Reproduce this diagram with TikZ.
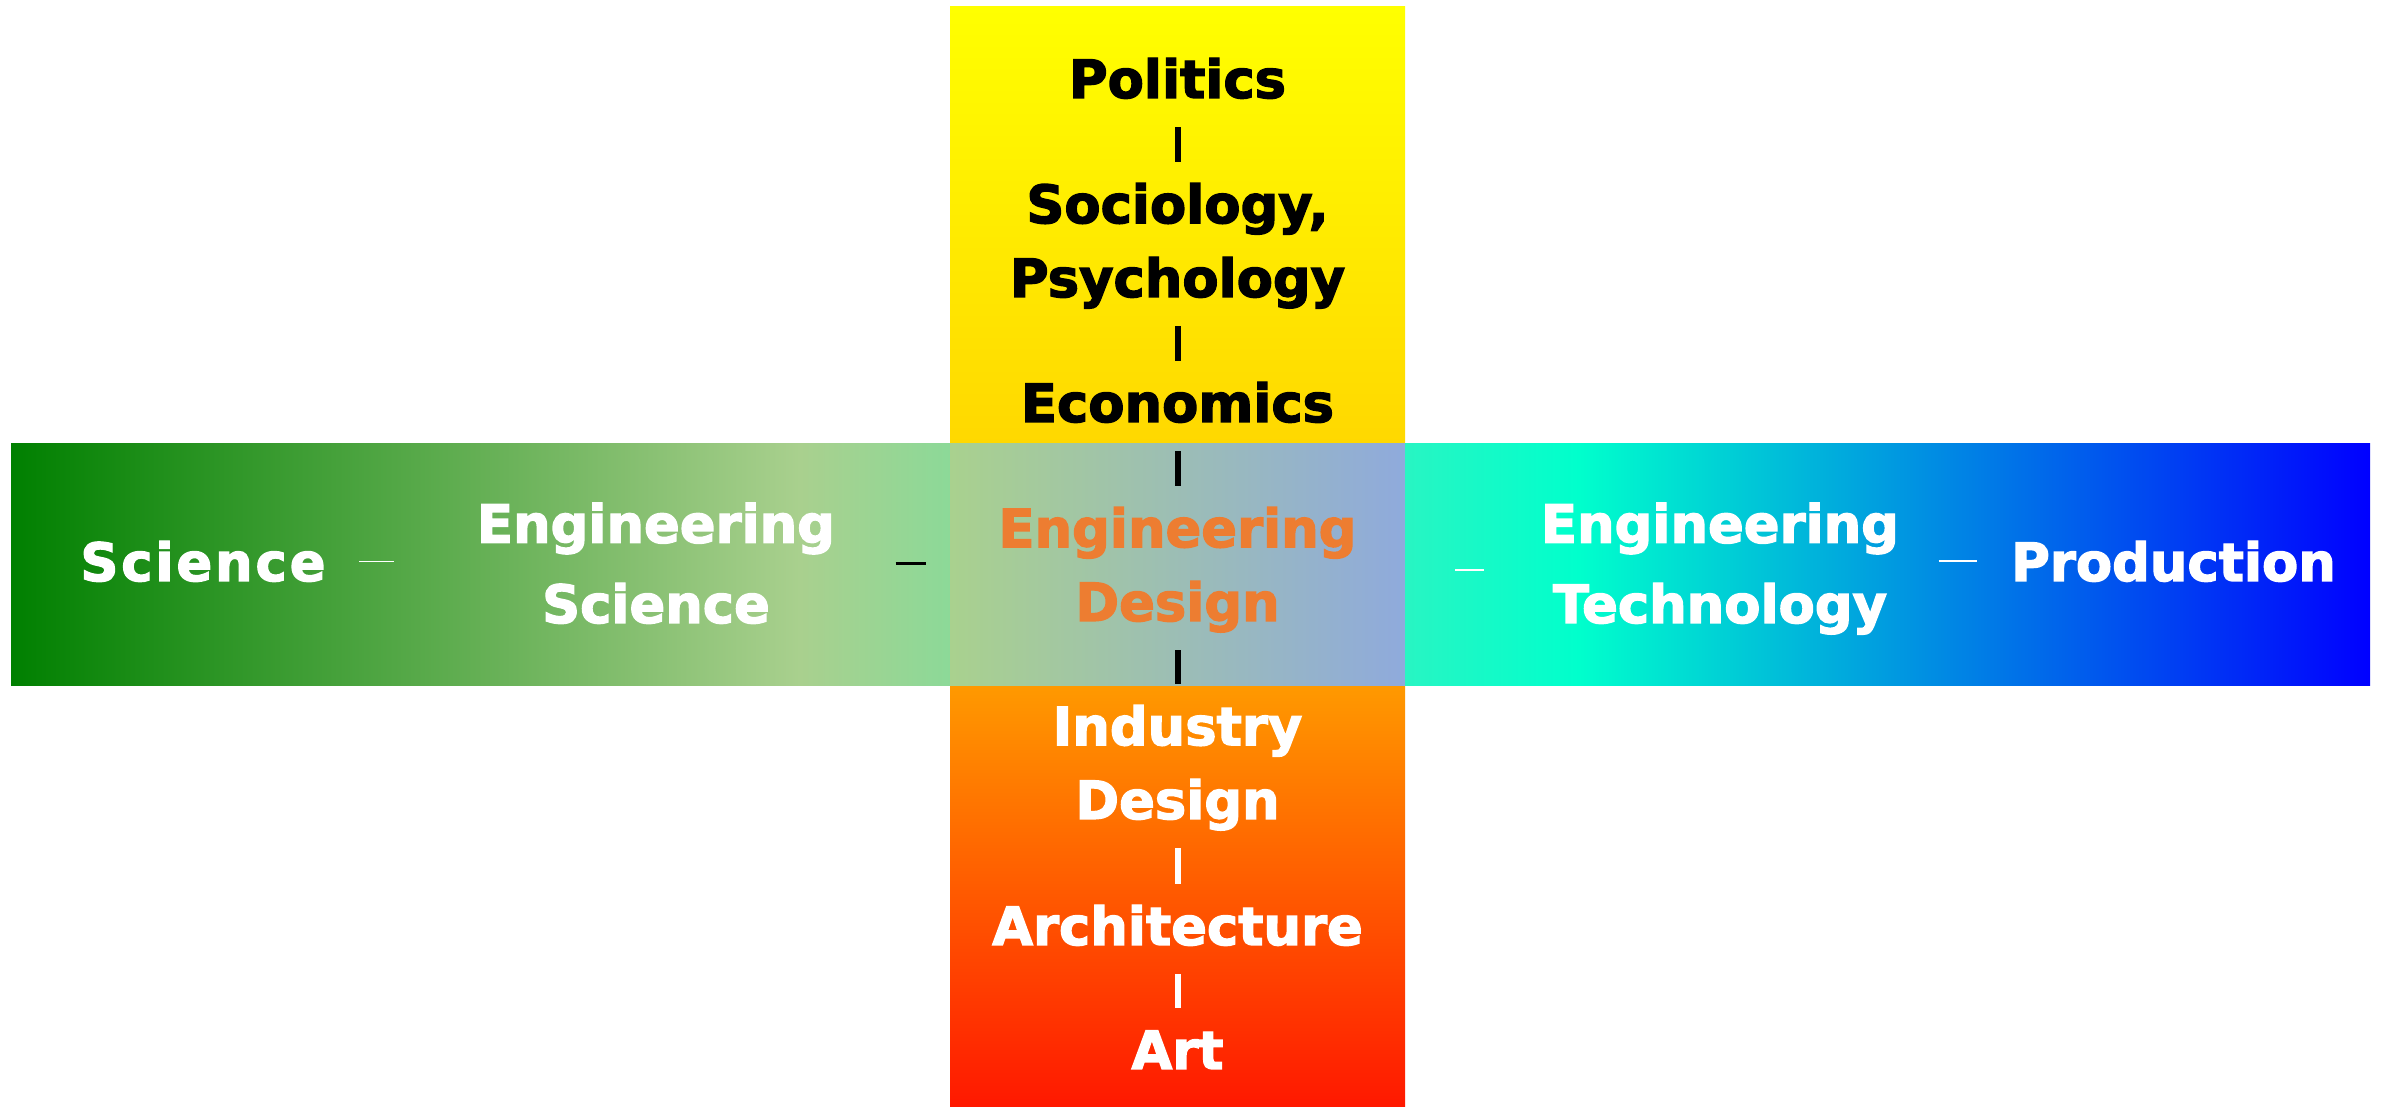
\documentclass[tikz,border=0pt]{standalone}
\usepackage{fontspec}
\setmainfont{DejaVu Sans}[BoldFeatures={FakeBold=2.5}]
\usepackage{xcolor}
\usepackage{tikz}

\definecolor{scigreen}{RGB}{0,128,0}
\definecolor{palegreen}{RGB}{169,208,142}
\definecolor{mintgreen}{RGB}{140,217,152}
\definecolor{edgreen}{RGB}{169,209,142}
\definecolor{edblue}{RGB}{143,170,220}
\definecolor{aquagreen}{RGB}{40,245,195}
\definecolor{techcyan}{RGB}{0,255,204}
\definecolor{prodblue}{RGB}{0,0,255}
\definecolor{polyellow}{RGB}{255,255,0}
\definecolor{ecogold}{RGB}{255,216,0}
\definecolor{indorange}{RGB}{255,153,0}
\definecolor{artred}{RGB}{255,24,0}
\definecolor{edorange}{RGB}{237,125,49}

\pgfdeclarehorizontalshading{sciencebar}{100bp}{color(0bp)=(scigreen); color(25bp)=(scigreen); color(67bp)=(palegreen); color(75bp)=(mintgreen); color(100bp)=(mintgreen)}
\pgfdeclarehorizontalshading{techbar}{100bp}{color(0bp)=(aquagreen); color(25bp)=(aquagreen); color(34bp)=(techcyan); color(75bp)=(prodblue); color(100bp)=(prodblue)}

\begin{document}
\begin{tikzpicture}[x=0.01cm, y=-0.01cm,
    lbl/.style={font=\bfseries\fontsize{15}{21}\selectfont, inner sep=0pt, align=center, anchor=base},
    hlbl/.style={lbl, font=\bfseries\fontsize{15}{22.8}\selectfont, text=white},
    vsep/.style={line width=0.6mm, shorten <=0.29cm, shorten >=0.61cm},
    vsepl/.style={vsep, shorten >=1.35cm},
    hsep/.style={line width=0.2mm}]
    \useasboundingbox (0,0) rectangle (2384,1107);

    \shade[top color=polyellow, bottom color=ecogold] (950,7) rectangle (1405,444);
    \shade[top color=indorange, bottom color=artred] (950,686) rectangle (1405,1107);
    \shade[shading=sciencebar] (11,444) rectangle (950,686);
    \shade[left color=edgreen, right color=edblue] (950,444) rectangle (1405,686);
    \shade[shading=techbar] (1405,444) rectangle (2370,686);

    \node[lbl] (pol) at (1177.5,98) {Politics};
    \node[lbl] (soc) at (1177.5,297) {Sociology,\\Psychology};
    \node[lbl] (eco) at (1177.5,422) {Economics};
    \node[lbl, text=edorange] (ed) at (1177.5,621) {Engineering\\Design};
    \node[lbl, text=white] (ind) at (1177.5,819) {Industry\\Design};
    \node[lbl, text=white] (arch) at (1177.5,945) {Architecture};
    \node[lbl, text=white] (art) at (1177.5,1069) {Art};

    \node[hlbl, font=\bfseries\fontsize{15}{22.8}\selectfont\addfontfeature{LetterSpace=5.5}] (sci) at (203,581) {Science};
    \node[hlbl] (es) at (656,623) {Engineering\\Science};
    \node[hlbl] (et) at (1720,623) {Engineering\\Technology};
    \node[hlbl] (prod) at (2173.5,581) {Production};

    \draw[vsepl] (pol.base) -- (soc.base);
    \draw[vsep] (soc.base) -- (eco.base);
    \draw[vsepl] (eco.base) -- (ed.base);
    \draw[vsepl] (ed.base) -- (ind.base);
    \draw[vsep, white] (ind.base) -- (arch.base);
    \draw[vsep, white] (arch.base) -- (art.base);

    \draw[hsep, white, line width=0.15mm, shorten <=0.33cm, shorten >=0.82cm] (sci.east) -- (sci.east -| es.west);
    \draw[hsep, line width=0.3mm, shorten <=0.6cm, shorten >=0.72cm] (es.east) -- (es.east -| ed.west);
    \draw[hsep, white, shorten <=0.98cm, shorten >=0.56cm] (ed.east) -- (ed.east -| et.west);
    \draw[hsep, white, shorten <=0.39cm, shorten >=0.34cm] (prod.west -| et.east) -- (prod.west);
\end{tikzpicture}
\end{document}
